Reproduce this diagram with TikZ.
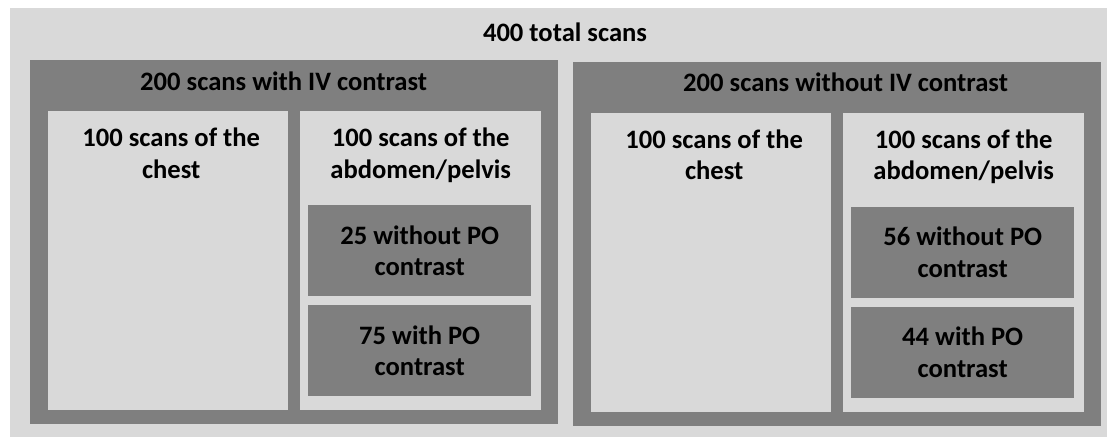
\documentclass[tikz,border=0pt]{standalone}
\usepackage{fontspec}
\setmainfont{Carlito}
\usetikzlibrary{positioning}
\definecolor{boxlight}{HTML}{D9D9D9}
\definecolor{boxdark}{HTML}{7F7F7F}
\tikzset{
  lightbox/.style={fill=boxlight, draw=none, anchor=north west, inner sep=0pt},
  darkbox/.style={fill=boxdark, draw=none, anchor=north west, inner sep=0pt},
  lbl/.style={font=\fontsize{26.6}{31.5}\selectfont\bfseries, align=center, inner sep=0pt}
}
\begin{document}
\begin{tikzpicture}[x=1pt,y=-1pt]
    \useasboundingbox (0,0) rectangle (1107,437);

    % Outer frame
    \node[lightbox, minimum width=1097pt, minimum height=429pt] (total) at (10,8) {};
    \node[lbl, anchor=base] (totaltxt) at (565,41) {400 total scans};

    % Two halves: with / without IV contrast
    \foreach \s/\dx/\dy/\ttl/\na/\nb in {A/0/0/with/25/75, B/543/1.5/without/56/44} {
        \begin{scope}[shift={(\dx,\dy)}]
            \node[darkbox, minimum width=528pt, minimum height=364pt] (iv\s) at (30,60) {};
            \node[lbl, anchor=base west] (ivtxt\s) at (140,90) {200 scans \ttl\ IV contrast};

            % Chest
            \node[lightbox, minimum width=240pt, minimum height=299pt] (chest\s) at (48,111) {};
            \node[lbl, anchor=north, below=17pt of chest\s.north, xshift=3pt] (chesttxt\s) {100 scans of the\\chest};

            % Abdomen / pelvis
            \node[lightbox, minimum width=241pt, minimum height=299pt] (abd\s) at (300,111) {};
            \node[lbl, anchor=north, below=17pt of abd\s.north] (abdtxt\s) {100 scans of the\\abdomen/pelvis};

            % PO contrast split
            \node[darkbox, minimum width=223pt, minimum height=91pt] (nopo\s) at (308,205) {};
            \node[lbl] (nopotxt\s) at (nopo\s.center) {\na\ without PO\\contrast};
            \node[darkbox, minimum width=223pt, minimum height=91pt] (po\s) at (308,305) {};
            \node[lbl] (potxt\s) at (po\s.center) {\nb\ with PO\\contrast};
        \end{scope}
    }
\end{tikzpicture}
\end{document}
